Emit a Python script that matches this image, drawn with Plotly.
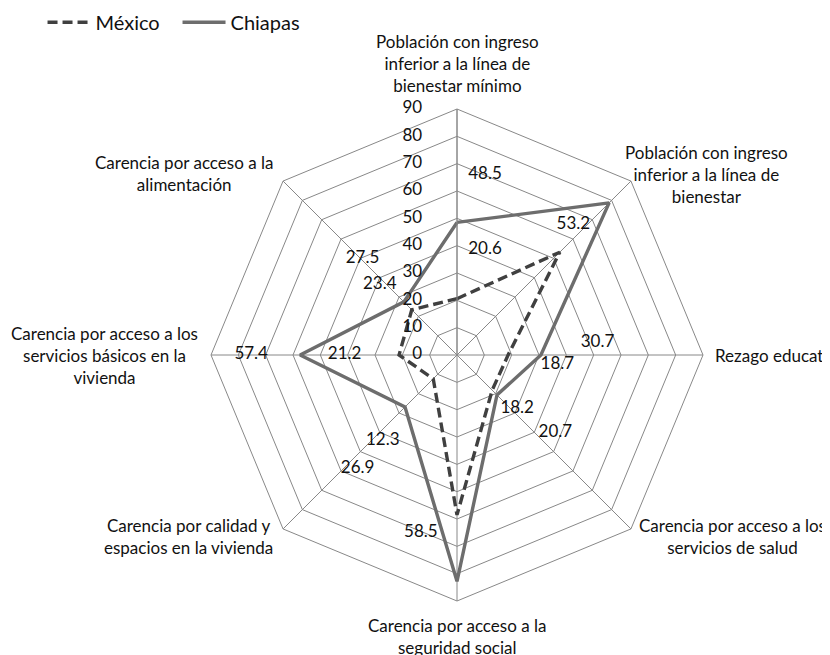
import math
import plotly.graph_objects as go

categories = [
    "Población con ingreso<br>inferior a la línea de<br>bienestar mínimo",
    "Población con ingreso<br>inferior a la línea de<br>bienestar",
    "Rezago educativo",
    "Carencia por acceso a los<br>servicios de salud",
    "Carencia por acceso a la<br>seguridad social",
    "Carencia por calidad y<br>espacios en la vivienda",
    "Carencia por acceso a los<br>servicios básicos en la<br>vivienda",
    "Carencia por acceso a la<br>alimentación",
]
mexico = [20.6, 53.2, 18.7, 18.2, 58.5, 12.3, 21.2, 23.4]
chiapas = [48.5, 78.7, 30.7, 20.7, 82.8, 26.9, 57.4, 27.5]
radial_ticks = [0, 10, 20, 30, 40, 50, 60, 70, 80, 90]

# label placement (style): radial and angular offsets from each point
chi_dr = [18.4, 22.2, 20.9, 25.1, 8.3, 28.3, 17.9, 21.9]
chi_da = [8.8, -11.1, -4.9, -6.8, 8.8, -3.8, 0, 0.6]
mex_dr = [19.3, 10.8, 18.2, 11.2, 7.9, 29.1, 19.9, 14.8]
mex_da = [14.9, -3.3, 5.7, -3.5, 11.5, -4, 0, -2.7]
# category label placement (style): radius (axis units) and angle of each label block
cat_r = [106.5, 112.9, 93.5, 120.7, 102.9, 118.5, 129.0, 120.0]
cat_a = [0, 54.1, 90, 123.4, 180, 235.9, 270, 303.6]

n = len(categories)
base_angles = [i * 360 / n for i in range(n)]

W, H = 830, 655
CX, CY, RAD = 449, 347, 246  # polar centre / radius in figure pixels
RMAX = 90

FONT = "Lato"
FS = 17
TXT = "#111111"
fig = go.Figure()

fig.add_trace(go.Scatterpolar(
    r=mexico + mexico[:1], theta=categories + categories[:1],
    mode="lines", name="México",
    line=dict(color="#404040", width=3.4, dash="10px,5px"),
))
fig.add_trace(go.Scatterpolar(
    r=chiapas + chiapas[:1], theta=categories + categories[:1],
    mode="lines", name="Chiapas",
    line=dict(color="#6d6d6d", width=3.4),
))

for vals, dr, da in ((chiapas, chi_dr, chi_da), (mexico, mex_dr, mex_da)):
    fig.add_trace(go.Scatterpolar(
        r=[v + d for v, d in zip(vals, dr)],
        theta=[a + d for a, d in zip(base_angles, da)],
        mode="text", text=[f"{v:.1f}" for v in vals],
        textfont=dict(family=FONT, size=FS, color=TXT),
        showlegend=False, hoverinfo="skip", subplot="polar2", cliponaxis=False,
    ))

# radial tick labels, horizontal, left of the top spoke
fig.add_trace(go.Scatterpolar(
    r=radial_ticks, theta=[0] * len(radial_ticks),
    mode="text", text=[f"{t}" + "\u00a0" * 8 for t in radial_ticks],
    textposition="middle left",
    textfont=dict(family=FONT, size=FS, color=TXT),
    showlegend=False, hoverinfo="skip", subplot="polar2", cliponaxis=False,
))

# category labels as annotations placed around the octagon
for i, (txt, r, a) in enumerate(zip(categories, cat_r, cat_a)):
    px = CX + r / RMAX * RAD * math.sin(math.radians(a))
    py = CY - r / RMAX * RAD * math.cos(math.radians(a))
    fig.add_annotation(
        x=px / W, y=1 - py / H, xref="paper", yref="paper",
        text=txt, showarrow=False, align="center",
        xanchor="left" if i == 2 else "center", yanchor="middle",
        font=dict(family=FONT, size=FS, color=TXT),
    )

dom = dict(x=[(CX - RAD) / W, (CX + RAD) / W],
           y=[(H - CY - RAD) / H, (H - CY + RAD) / H])
fig.update_layout(
    width=W, height=H,
    margin=dict(l=0, r=0, t=0, b=0, autoexpand=False),
    paper_bgcolor="white",
    font=dict(family=FONT, size=FS, color=TXT),
    showlegend=True,
    legend=dict(orientation="h", x=0.0416, y=1.008, xanchor="left", yanchor="top",
                font=dict(size=20), itemwidth=43, entrywidth=77,
                bgcolor="rgba(0,0,0,0)"),
    polar=dict(
        domain=dom,
        bgcolor="white",
        gridshape="linear",
        radialaxis=dict(
            range=[0, RMAX], tickvals=radial_ticks, showticklabels=False,
            angle=90, showline=True, linecolor="#888888", linewidth=1,
            gridcolor="#888888", gridwidth=1, ticks="",
        ),
        angularaxis=dict(
            type="category", categoryarray=categories,
            rotation=90, direction="clockwise", showticklabels=False,
            showline=True, linecolor="#888888", linewidth=1,
            gridcolor="#888888", gridwidth=1, ticks="",
        ),
    ),
    polar2=dict(
        domain=dom,
        bgcolor="rgba(0,0,0,0)",
        radialaxis=dict(range=[0, RMAX], visible=False),
        angularaxis=dict(rotation=90, direction="clockwise", visible=False),
    ),
)

fig.write_html("out.html")
